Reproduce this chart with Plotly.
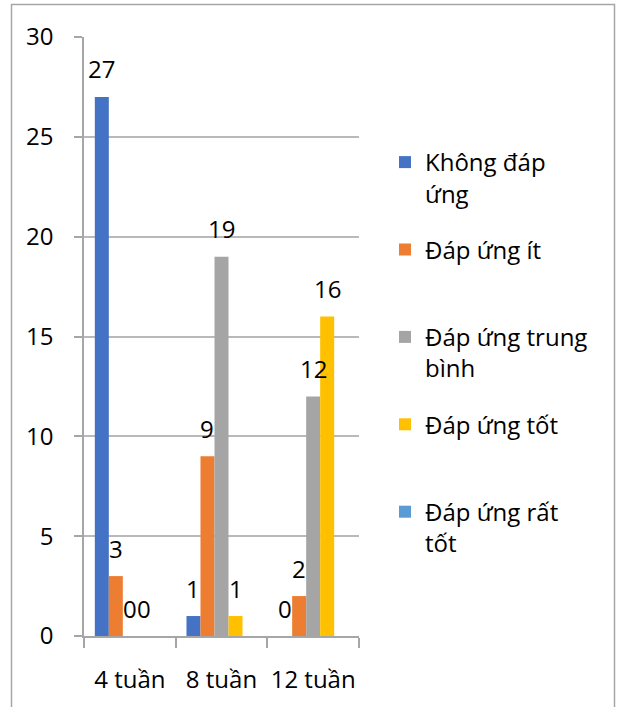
import plotly.graph_objects as go

# Categories and series values
categories = ["4 tuần", "8 tuần", "12 tuần"]
khong_dap_ung = [27, 1, 0]
dap_ung_it = [3, 9, 2]
dap_ung_trung_binh = [0, 19, 12]
dap_ung_tot = [0, 1, 16]
dap_ung_rat_tot = [None, None, None]

series_names = ["Không đáp<br>ứng", "Đáp ứng ít", "Đáp ứng trung<br>bình",
                "Đáp ứng tốt", "Đáp ứng rất<br>tốt"]
series_values = [khong_dap_ung, dap_ung_it, dap_ung_trung_binh, dap_ung_tot, dap_ung_rat_tot]
series_colors = ["#4472C4", "#ED7D31", "#A5A5A5", "#FFC000", "#5B9BD5"]

y_ticks = [0, 5, 10, 15, 20, 25, 30]

# Page and plot-area geometry (pixels)
W, H = 619, 707
L, R, T, B = 84, 359, 37, 636
FONT = "Open Sans, Carlito, Calibri, sans-serif"
FS = 24
BARGAP = 0.236
AXIS_COLOR = "#a6a6a6"
GRID_COLOR = "#b9b9b9"
LABEL_LIFT = 28


def px_x(p):
    return (p - L) / (R - L)


def px_y(p):
    return (B - p) / (B - T)


fig = go.Figure()
for i, (name, vals, col) in enumerate(zip(series_names, series_values, series_colors)):
    # pad one-line legend entries so every entry takes two lines
    legend_name = name if "<br>" in name else name + "<br> "
    fig.add_trace(go.Bar(
        x=categories, y=vals, name=legend_name, marker_color=col,
        marker_line_width=0, legendgroup=f"g{i}",
    ))

# Data labels above each bar: anchored at the category, shifted sideways
# by the bar's slot in the group and lifted above the bar end
n = len(series_values)
slot_px = (R - L) / len(categories) * (1 - BARGAP) / n
annotations = []
for k, vals in enumerate(series_values):
    for ci, v in enumerate(vals):
        if v is None:
            continue
        annotations.append(dict(
            x=categories[ci], y=v, xref="x", yref="y",
            xshift=(k - (n - 1) / 2) * slot_px, yshift=LABEL_LIFT,
            text=str(v), showarrow=False, xanchor="center", yanchor="middle",
            font=dict(family=FONT, size=FS, color="#000000"),
        ))

fig.update_layout(
    width=W, height=H,
    margin=dict(l=L, r=W - R, t=T, b=H - B, pad=0, autoexpand=False),
    paper_bgcolor="white", plot_bgcolor="white",
    barmode="group", bargap=BARGAP, bargroupgap=0,
    font=dict(family=FONT, size=FS, color="#000000"),
    showlegend=True,
    legend=dict(
        x=px_x(385), y=px_y(140), xanchor="left", yanchor="top",
        font=dict(family=FONT, size=FS, color="#000000"),
        valign="top", tracegroupgap=22, bgcolor="rgba(0,0,0,0)",
    ),
    annotations=annotations,
    shapes=[dict(
        type="rect", xref="paper", yref="paper",
        x0=px_x(11.5), x1=px_x(614.5), y0=px_y(740), y1=px_y(4.5),
        line=dict(color="#a6a6a6", width=1.5), fillcolor="rgba(0,0,0,0)", layer="below",
    )],
)

fig.update_xaxes(
    type="category", tickson="boundaries", ticks="outside", ticklen=10,
    tickcolor=AXIS_COLOR, tickwidth=1.5, showline=True, linecolor=AXIS_COLOR, linewidth=1.5,
    showgrid=False, ticklabelstandoff=21, tickangle=0, automargin=False,
    tickfont=dict(family=FONT, size=FS, color="#000000"),
)
fig.update_yaxes(
    range=[0, 30], tickvals=y_ticks, ticks="outside", ticklen=8,
    tickcolor=AXIS_COLOR, tickwidth=1.5, showline=True, linecolor=AXIS_COLOR, linewidth=1.5,
    showgrid=True, gridcolor=GRID_COLOR, gridwidth=1.5, zeroline=False,
    ticklabelstandoff=16, automargin=False,
    tickfont=dict(family=FONT, size=FS, color="#000000"),
)

fig.write_html("out.html")
